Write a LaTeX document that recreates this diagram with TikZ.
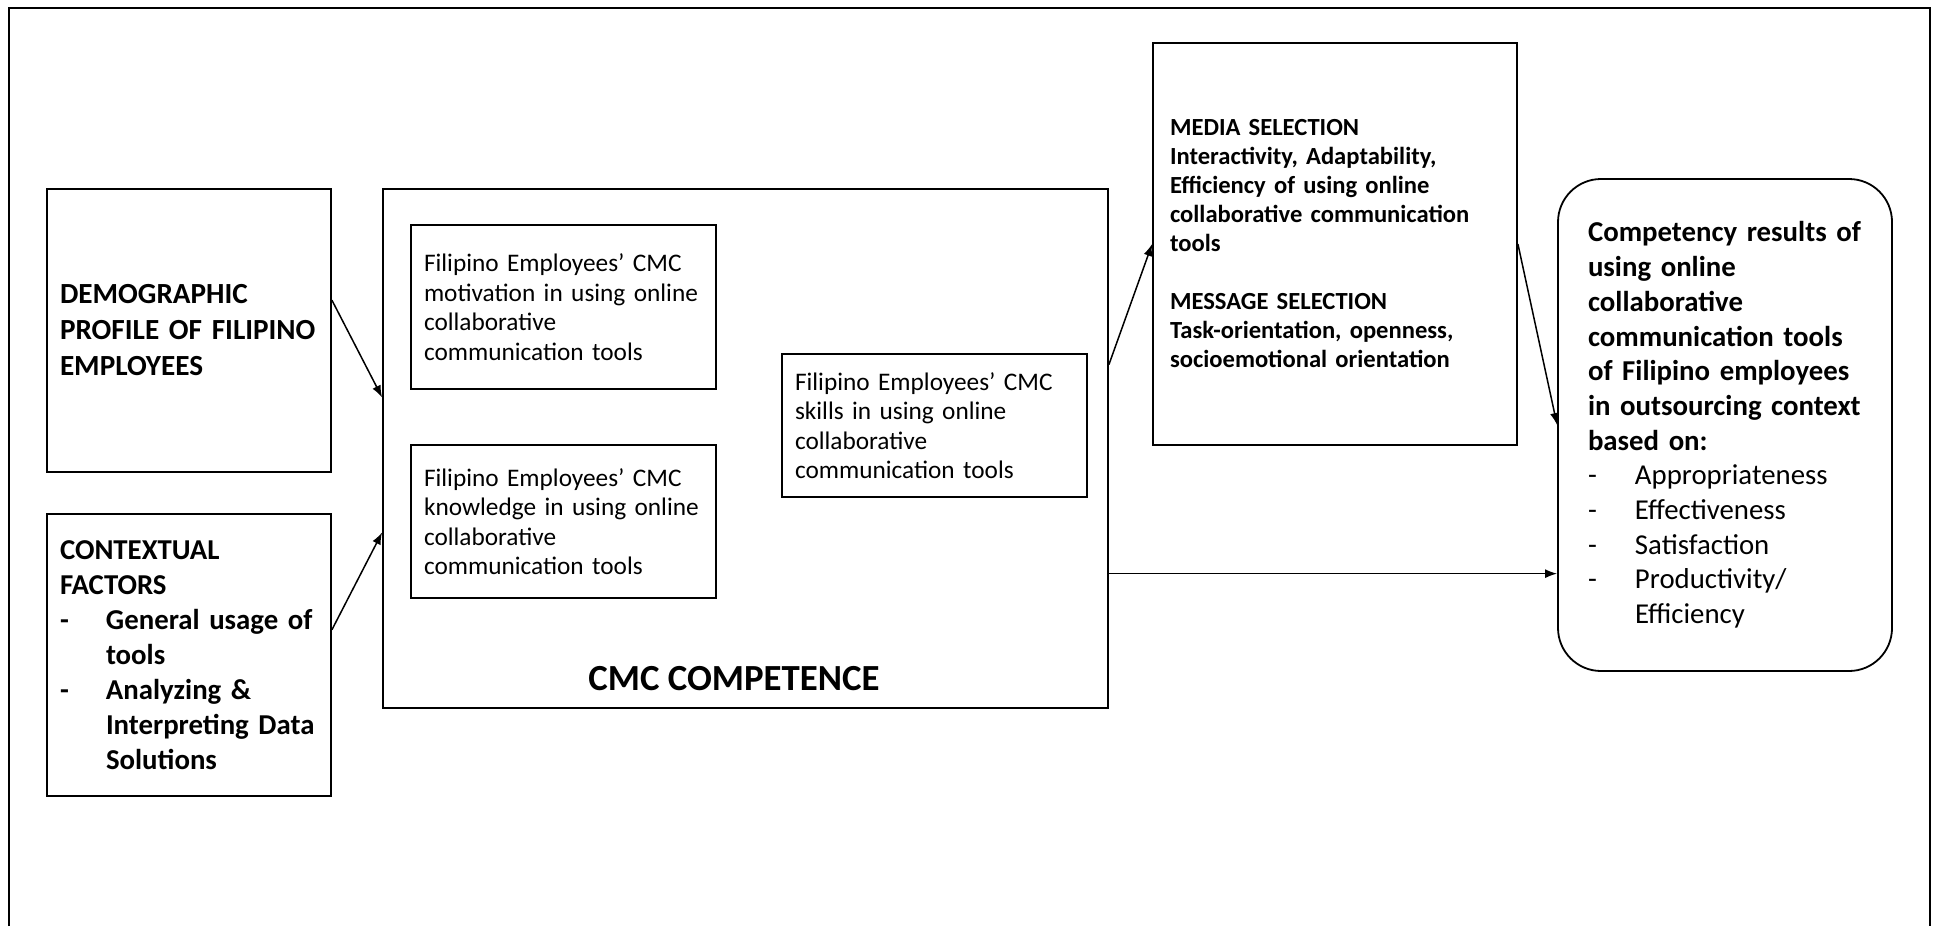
\documentclass[tikz,border=0pt]{standalone}
\usepackage{fontspec}
\setmainfont{Carlito}
\usetikzlibrary{arrows.meta}
\newcommand{\itemdash}[1][23.5pt]{\makebox[#1][l]{-}}

\begin{document}
\begin{tikzpicture}[x=0.5pt,y=-0.5pt]
   \tikzstyle{box}=[draw, line width=0.9pt, align=left, inner xsep=6.5pt, inner ysep=0pt]
   \tikzstyle{inner box}=[box, font=\fontsize{12.65}{14.75}\selectfont, text width=139.5pt]
   \tikzstyle{arrow}=[-{Latex[length=6pt,width=4.5pt]}, line width=0.75pt]

\useasboundingbox (0,0) rectangle (1937,926);
\draw[line width=1pt] (9,926) -- (9,8) -- (1930,8) -- (1930,926);

% inputs
\node[box, font=\bfseries\fontsize{14.6}{18}\selectfont, text width=129pt, minimum height=141.5pt] (demo) at (189,330.5)
    {DEMOGRAPHIC\\PROFILE OF FILIPINO\\EMPLOYEES};
\node[box, font=\bfseries\fontsize{14.4}{17.5}\selectfont, text width=129pt, minimum height=141pt] (context) at (189,655)
    {CONTEXTUAL\\FACTORS\\
     \itemdash[23pt]General usage of\\\hspace*{23pt}tools\\
     \itemdash[23pt]Analyzing \&\\\hspace*{23pt}Interpreting Data\\\hspace*{23pt}Solutions};

% cmc competence
\node[box, minimum width=362.5pt, minimum height=259.5pt] (cmc) at (745.5,448.5) {};
\node[font=\bfseries\fontsize{18.4}{22}\selectfont] (cmclabel) at (734,679) {CMC COMPETENCE};
\node[inner box, minimum height=82pt] (motiv) at (563.5,307)
    {Filipino Employees’ CMC\\motivation in using online\\collaborative\\communication tools};
\node[inner box, minimum height=76.5pt] (know) at (563.5,521.5)
    {Filipino Employees’ CMC\\knowledge in using online\\collaborative\\communication tools};
\node[inner box, minimum height=71.5pt] (skills) at (934.5,425.5)
    {Filipino Employees’ CMC\\skills in using online\\collaborative\\communication tools};

% selection
\node[box, font=\bfseries\fontsize{12.3}{14.5}\selectfont, inner xsep=8.5pt, text width=165pt, minimum height=201pt] (media) at (1335,244)
    {MEDIA SELECTION\\Interactivity, Adaptability,\\Efficiency of using online\\collaborative communication\\tools\\[14.5pt]
     MESSAGE SELECTION\\Task-orientation, openness,\\socioemotional orientation};

% outcome
\node[box, rounded corners=21.5pt, font=\fontsize{14.4}{17.35}\selectfont, inner xsep=15pt, text width=137pt, minimum height=246pt] (result) at (1725,425)
    {\textbf{Competency results of\\using online\\collaborative\\communication tools\\of Filipino employees\\in outsourcing context\\based on:}\\
     \itemdash Appropriateness\\\itemdash Effectiveness\\\itemdash Satisfaction\\\itemdash Productivity/\\\hspace*{23.5pt}Efficiency};

\draw[arrow] (demo.12) -- (cmc.172);
\draw[arrow] (context.10) -- (cmc.193);
\draw[arrow] (cmc.13) -- (media.west);
\draw[arrow] (media.east) -- (result.west);
\draw[arrow] (cmc.-19.5) -- (cmc.-19.5 -| result.west);

\end{tikzpicture}
\end{document}
